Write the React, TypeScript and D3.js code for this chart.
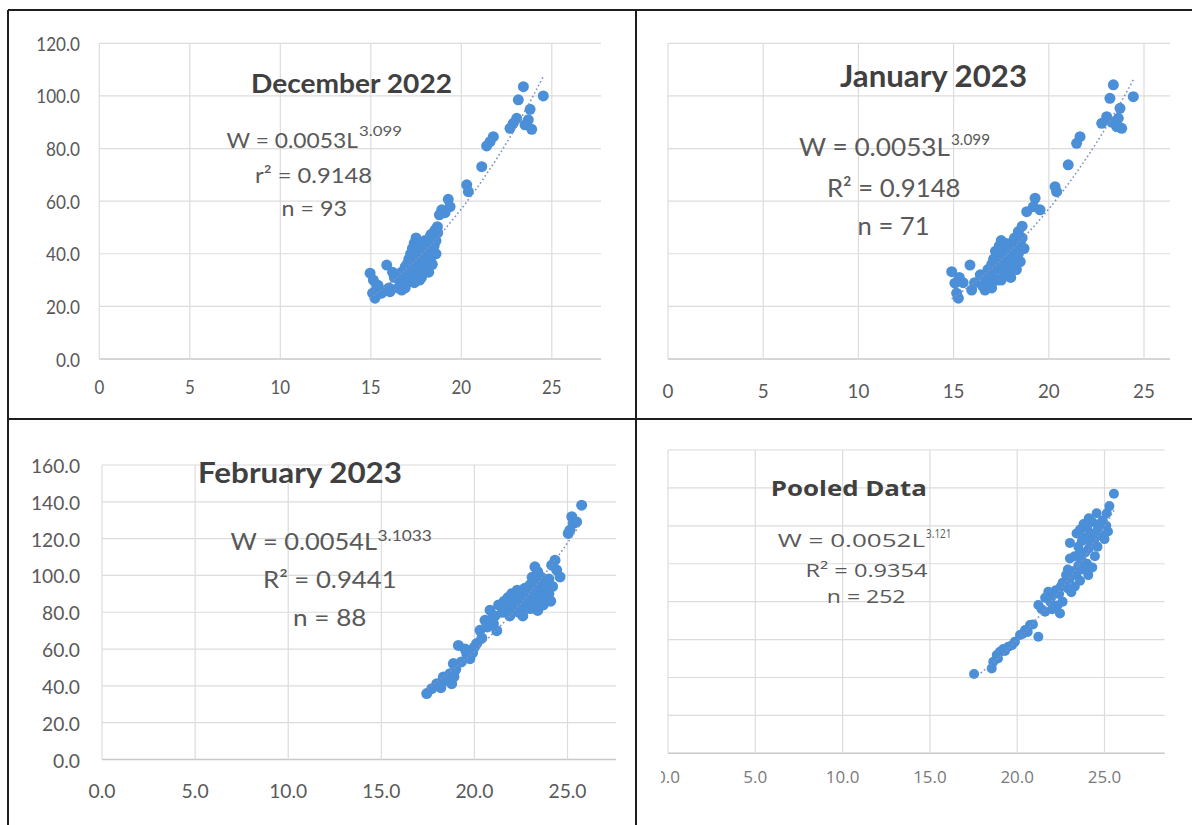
import React from 'react';
import * as d3 from 'd3';

// ---------- December 2022 (length L cm, weight W g) ----------
const decL = [23.43, 23.15, 24.53, 23.8, 23.7, 23.06, 22.87, 22.69, 23.52, 23.89, 21.77, 21.59, 21.4, 21.13, 20.3, 20.39, 19.28, 19.38, 18.92, 18.79, 19.1, 18.55, 18.36, 18.68, 17.54, 15.88, 14.96, 15.14, 15.33, 15.23, 15.1, 15.88, 16.06, 16.71, 16.3, 16.0, 15.6, 15.4, 16.2,
  16.6, 16.7, 16.8, 16.9, 16.9, 17.0, 17.0, 17.0, 17.1, 17.1, 17.2, 17.2, 17.3, 17.3, 17.3, 17.4, 17.4, 17.5, 17.5, 17.5, 17.6, 17.6, 17.6, 17.7, 17.7, 17.7, 17.8, 17.8, 17.9, 17.9, 17.9, 18.0, 18.0, 18.0, 18.1, 18.1, 18.2, 18.2, 18.3, 18.3, 18.4, 18.4, 18.5, 18.5, 18.6, 18.6, 18.2, 17.8, 17.4, 16.9, 16.5, 18.7, 18.3, 17.2];
const decW = [103.5, 98.5, 100, 94.9, 90.9, 91.5, 89.6, 87.7, 89, 87.3, 84.5, 82.6, 81, 73.1, 66.2, 63.6, 60.7, 57.9, 56.7, 54.8, 55.6, 49, 47.5, 50.3, 45.2, 35.7, 32.6, 30, 27.5, 23.1, 25, 26.2, 25.6, 26.2, 31, 27, 25, 28, 33,
  30, 33, 28, 35, 31, 36, 33, 29, 38, 34, 40, 31, 36, 42, 33, 38, 44, 35, 40, 46, 37, 32, 42, 39, 44, 30, 36, 41, 38, 34, 43, 40, 36, 45, 38, 42, 35, 40, 44, 38, 41, 36, 43, 47, 40, 45, 33, 31, 29, 27, 27, 48, 47, 37];
const decA = 0.0053;
const decB = 3.099;

// ---------- January 2023 ----------
const janL = [23.39, 23.21, 24.44, 23.74, 23.65, 23.04, 22.78, 23.57, 23.83, 21.64, 21.46, 21.02, 20.33, 20.41, 19.28, 19.19, 18.84, 19.54, 18.4, 15.86, 14.9, 15.07, 15.16, 15.25, 15.95, 16.65, 18.6, 23.3,
  16.7, 16.8, 16.9, 17.0, 17.0, 17.1, 17.2, 17.2, 17.3, 17.3, 17.4, 17.4, 17.5, 17.5, 17.6, 17.6, 17.7, 17.7, 17.8, 17.8, 17.9, 17.9, 18.0, 18.0, 18.1, 18.1, 18.2, 18.2, 18.3, 18.3, 18.4, 18.5, 18.5, 18.6, 18.7, 16.5, 16.4, 17.0, 18.0, 17.5, 15.5, 15.3, 16.1];
const janW = [104.2, 99.1, 99.7, 95.3, 91.5, 92.1, 89.6, 88.3, 87.7, 84.5, 82, 73.8, 65.5, 63.6, 61.1, 57.9, 56, 56.7, 48.4, 35.7, 33.2, 28.8, 25, 23.1, 26.2, 26.2, 50.5, 90,
  31, 34, 29, 36, 32, 38, 34, 41, 30, 37, 43, 35, 39, 45, 33, 41, 37, 44, 40, 32, 42, 36, 39, 44, 35, 41, 38, 46, 42, 34, 40, 44, 37, 46, 42, 28, 32, 27, 31, 30, 29, 31, 29];
const janA = 0.0053;
const janB = 3.099;

// ---------- February 2023 ----------
const febL = [25.76, 25.23, 25.31, 25.13, 25.49, 25.04, 24.33, 24.42, 24.6, 24.15, 23.25, 20.84, 20.57, 21.02, 20.3, 20.12, 19.14, 19.59, 19.76, 18.87, 18.69, 18.33, 18.78, 17.98, 17.71, 17.44,
  21.3, 21.5, 21.6, 21.7, 21.8, 21.9, 22.0, 22.0, 22.1, 22.2, 22.3, 22.3, 22.4, 22.5, 22.5, 22.6, 22.7, 22.7, 22.8, 22.8, 22.9, 23.0, 23.0, 23.0, 23.1, 23.1, 23.2, 23.2, 23.3, 23.3, 23.4, 23.4, 23.5, 23.5, 23.6, 23.6, 23.7, 23.7, 23.8, 23.8, 23.9, 24.0, 24.0, 24.1, 24.2, 22.6, 21.9, 23.4,
  18.1, 18.5, 18.9, 19.0, 19.3, 19.9, 20.4, 20.7, 21.1, 20.9, 18.2, 19.5, 20.0, 21.2];
const febW = [138.2, 131.9, 128.3, 124.6, 129.1, 122.8, 108.3, 102.9, 99.2, 105.6, 104.7, 81.1, 75.6, 73.8, 70.2, 63, 62, 57.5, 54.8, 52.1, 46.6, 44.8, 41.2, 41.2, 38.5, 35.8,
  84, 80, 86, 82, 88, 84, 80, 90, 86, 83, 88, 92, 80, 85, 90, 87, 82, 93, 89, 85, 91, 87, 95, 82, 89, 99, 85, 93, 97, 88, 91, 102, 86, 95, 89, 99, 92, 84, 96, 88, 93, 90, 98, 86, 94, 78, 78, 81,
  40, 43, 45, 49, 53, 58, 66, 72, 78, 76, 39, 60, 61, 70];
const febA = 0.0054;
const febB = 3.1033;

// ---------- Pooled data ----------
const poolL = [25.54, 25.28, 25.13, 24.55, 24.9, 25.1, 24.3, 24.0, 23.8, 23.6, 24.2, 24.6, 24.8, 25.0, 24.4, 23.9, 23.4, 23.02, 24.6, 24.1, 23.02, 23.3, 23.7, 24.0, 24.07, 23.8, 23.5, 23.4, 23.2, 23.0, 22.8, 22.7, 22.5, 22.9, 23.1, 23.3, 23.6, 22.4, 22.2, 22.0, 21.78, 22.6, 22.3, 21.9, 21.6, 21.21, 21.6, 22.45, 22.0, 21.4, 21.21, 20.73, 20.45, 20.16, 19.87, 19.49, 19.2, 19.01, 18.83, 18.63, 18.54, 17.53, 20.9, 20.6, 20.3, 19.7, 19.3, 18.9, 24.45, 24.3, 23.9, 23.5, 24.7, 25.2, 24.1, 23.7, 24.5, 24.2, 23.6, 22.6, 22.9];
const poolW = [136.9, 130.4, 126.6, 126.6, 123, 120, 122, 119, 121, 118, 116, 118, 115, 113, 112, 114, 116, 111, 109, 108, 102.8, 104, 102, 100, 94, 97, 99, 94, 96, 92, 94, 90, 88, 87, 85, 88, 91, 84, 86, 83, 85.2, 80, 78, 80, 82, 78.2, 74.7, 73.8, 76, 76, 61.5, 67.7, 65, 62.4, 58.9, 56.2, 55, 53.6, 51.8, 48.3, 44.8, 41.8, 68, 64, 63, 57, 54, 50, 104, 98, 106, 109, 121, 117, 124, 112, 114, 110, 106, 90, 97];
const poolA = 0.0052;
const poolB = 3.121;

// tick values
const xTickValues = [0, 5, 10, 15, 20, 25];

const POINT = '#4a8fd8';
const TREND = '#7b93c2';
const GRID = '#dcdcdc';
const AXIS = '#c8c8c8';

type TextItem = { s: string; x0: number; x1: number; y: number; size: number; bold?: boolean; color: string; font: string };
type Cfg = {
  L: number[]; W: number[]; a: number; b: number;
  xr: [number, number]; yr: [number, number]; right: number; yMax: number; yStep: number;
  xFmt: (v: number) => string; yFmt: ((v: number) => string) | null;
  yLabelX: number; xLabelY: number; tickFont: string; tickSize: number; digitW: number; periodW: number; tickColor: string;
  r: number; texts: TextItem[]; clipLeft?: number; id: string;
};

function labelWidth(s: string, dW: number, pW: number) {
  let w = 0;
  for (const c of s) w += c === '.' ? pW : dW;
  return w;
}

function Chart({ c }: { c: Cfg }) {
  const x = d3.scaleLinear().domain([0, 25]).range(c.xr);
  const y = d3.scaleLinear().domain([0, c.yMax]).range(c.yr);
  const yTicks = d3.range(0, c.yMax + 0.001, c.yStep);
  const [lo, hi] = d3.extent(c.L) as [number, number];
  const trendPts: [number, number][] = d3.range(0, 61).map((i) => {
    const l = lo + ((hi - lo) * i) / 60;
    return [x(l), y(c.a * Math.pow(l, c.b))];
  });
  const line = d3.line();
  return (
    <g>
      {c.clipLeft !== undefined && (
        <clipPath id={c.id}>
          <rect x={c.clipLeft} y={0} width={1192} height={825} />
        </clipPath>
      )}
      {yTicks.map((t) => (
        <line key={'h' + t} x1={x(0)} x2={c.right} y1={y(t)} y2={y(t)} stroke={t === 0 ? AXIS : GRID} strokeWidth={t === 0 ? 1.6 : 1.2} />
      ))}
      {xTickValues.map((t) => (
        <line key={'v' + t} x1={x(t)} x2={x(t)} y1={y(0)} y2={y(c.yMax)} stroke={GRID} strokeWidth={1.2} />
      ))}
      {c.yFmt &&
        yTicks.map((t) => {
          const s = c.yFmt!(t);
          return (
            <text key={'yl' + t} x={c.yLabelX} y={y(t)} textAnchor="end" dominantBaseline="central" fontFamily={c.tickFont} fontSize={c.tickSize} fill={c.tickColor}
              textLength={labelWidth(s, c.digitW, c.periodW)} lengthAdjust="spacingAndGlyphs">
              {s}
            </text>
          );
        })}
      <g clipPath={c.clipLeft !== undefined ? `url(#${c.id})` : undefined}>
        {xTickValues.map((t) => {
          const s = c.xFmt(t);
          const w = labelWidth(s, c.digitW, c.periodW);
          return (
            <text key={'xl' + t} x={x(t) - w / 2} y={c.xLabelY} dominantBaseline="central" fontFamily={c.tickFont} fontSize={c.tickSize} fill={c.tickColor}
              textLength={w} lengthAdjust="spacingAndGlyphs">
              {s}
            </text>
          );
        })}
      </g>
      {c.L.map((l, i) => (
        <circle key={'p' + i} cx={x(l)} cy={y(c.W[i])} r={c.r} fill={POINT} />
      ))}
      <path d={line(trendPts) || ''} fill="none" stroke={TREND} strokeWidth={1.6} strokeDasharray="1.6 2.6" />
      {c.texts.map((t, i) => (
        <text key={'t' + i} x={t.x0} y={t.y} textLength={t.x1 - t.x0} lengthAdjust="spacingAndGlyphs" fontFamily={t.font} fontSize={t.size}
          fontWeight={t.bold ? 700 : 400} fill={t.color}>
          {t.s}
        </text>
      ))}
    </g>
  );
}

const CAL = 'Lato, "Open Sans", sans-serif';
const SEG = '"Open Sans", "Noto Sans", sans-serif';
const TITLE = '#404040';
const EQ = '#595959';

export default function App() {
  const int = (v: number) => String(v);
  const one = (v: number) => v.toFixed(1);
  const panels: Cfg[] = [
    {
      id: 'dec', L: decL, W: decW, a: decA, b: decB,
      xr: [99.3, 551.8], yr: [359, 43.3], right: 601, yMax: 120, yStep: 20,
      xFmt: int, yFmt: one, yLabelX: 80, xLabelY: 386, tickFont: CAL, tickSize: 19, digitW: 9.8, periodW: 4.5, tickColor: '#595959', r: 5.5,
      texts: [
        { s: 'December 2022', x0: 251, x1: 452, y: 93, size: 27, bold: true, color: TITLE, font: CAL },
        { s: 'W = 0.0053L', x0: 226.5, x1: 358, y: 148, size: 22, color: EQ, font: CAL },
        { s: '3.099', x0: 359, x1: 402, y: 135.5, size: 13, color: EQ, font: CAL },
        { s: 'r² = 0.9148', x0: 255, x1: 372, y: 182.5, size: 22, color: EQ, font: CAL },
        { s: 'n = 93', x0: 281.6, x1: 347, y: 216, size: 22, color: EQ, font: CAL },
      ],
    },
    {
      id: 'jan', L: janL, W: janW, a: janA, b: janB,
      xr: [668, 1144], yr: [359, 43.3], right: 1170, yMax: 120, yStep: 20,
      xFmt: int, yFmt: null, yLabelX: 0, xLabelY: 390, tickFont: CAL, tickSize: 20, digitW: 10.9, periodW: 5, tickColor: '#595959', r: 5.5,
      texts: [
        { s: 'January 2023', x0: 840, x1: 1027, y: 86.5, size: 30, bold: true, color: TITLE, font: CAL },
        { s: 'W = 0.0053L', x0: 799, x1: 950, y: 156, size: 25, color: EQ, font: CAL },
        { s: '3.099', x0: 951, x1: 990, y: 145, size: 15, color: EQ, font: CAL },
        { s: 'R² = 0.9148', x0: 827, x1: 960.5, y: 196.5, size: 25, color: EQ, font: CAL },
        { s: 'n = 71', x0: 857.6, x1: 929.6, y: 235, size: 25, color: EQ, font: CAL },
      ],
    },
    {
      id: 'feb', L: febL, W: febW, a: febA, b: febB,
      xr: [102, 567.5], yr: [759.5, 465], right: 616, yMax: 160, yStep: 20,
      xFmt: one, yFmt: one, yLabelX: 80, xLabelY: 790, tickFont: CAL, tickSize: 20, digitW: 11, periodW: 5, tickColor: '#595959', r: 5.5,
      texts: [
        { s: 'February 2023', x0: 198, x1: 402, y: 483, size: 28, bold: true, color: TITLE, font: CAL },
        { s: 'W = 0.0054L', x0: 230.6, x1: 377, y: 550, size: 24, color: EQ, font: CAL },
        { s: '3.1033', x0: 377.5, x1: 431.8, y: 540.5, size: 15, color: EQ, font: CAL },
        { s: 'R² = 0.9441', x0: 263, x1: 396.7, y: 588, size: 24, color: EQ, font: CAL },
        { s: 'n = 88', x0: 293, x1: 366.5, y: 626, size: 24, color: EQ, font: CAL },
      ],
    },
    {
      id: 'pool', L: poolL, W: poolW, a: poolA, b: poolB,
      xr: [668, 1104.5], yr: [753.3, 450], right: 1164.6, yMax: 160, yStep: 20,
      xFmt: one, yFmt: null, yLabelX: 0, xLabelY: 776, tickFont: SEG, tickSize: 17, digitW: 9.5, periodW: 5, tickColor: '#7a7a7a', r: 5, clipLeft: 661,
      texts: [
        { s: 'Pooled Data', x0: 770.8, x1: 926.8, y: 496, size: 21, bold: true, color: TITLE, font: SEG },
        { s: 'W = 0.0052L', x0: 777.8, x1: 925, y: 546.5, size: 18, color: EQ, font: SEG },
        { s: '3.121', x0: 926, x1: 951.6, y: 538, size: 12.5, color: EQ, font: SEG },
        { s: 'R² = 0.9354', x0: 805.5, x1: 927.5, y: 576.5, size: 18, color: EQ, font: SEG },
        { s: 'n = 252', x0: 826.8, x1: 905.5, y: 603.3, size: 18, color: EQ, font: SEG },
      ],
    },
  ];
  return (
    <svg width={1192} height={825} style={{ position: 'absolute', left: 0, top: 0, background: '#fff' }}>
      <rect x={0} y={0} width={1192} height={825} fill="#fff" />
      {panels.map((p) => (
        <Chart key={p.id} c={p} />
      ))}
      <g stroke="#1e1e1e" strokeWidth={2}>
        <line x1={8} x2={1192} y1={10} y2={10} />
        <line x1={8} x2={8} y1={10} y2={825} />
        <line x1={636} x2={636} y1={10} y2={825} />
        <line x1={8} x2={1192} y1={419} y2={419} />
      </g>
    </svg>
  );
}
